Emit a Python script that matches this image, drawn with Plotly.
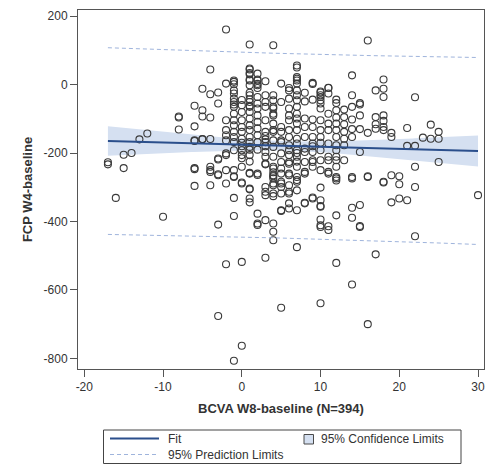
import numpy as np
import plotly.graph_objects as go

# BCVA change at week 8 (letters) -> FCP change at week 4, grouped by BCVA value
fcp_by_bcva = {
    -17: [-227, -233],
    -16: [-331],
    -15: [-205, -244],
    -14: [-200],
    -13: [-160],
    -12: [-143],
    -10: [-386],
    -8: [-93, -96, -131],
    -6: [-62, -122, -163, -165, -244, -247, -296],
    -5: [-12, -75, -93, -159, -160],
    -4: [44, -28, -96, -159, -240, -250, -255, -294],
    -3: [-23, -55, -216, -219, -262, -265, -409, -676],
    -2: [161, 3, -104, -133, -148, -163, -201, -206, -250, -289, -525],
    -1: [12, 8, 1, -17, -26, -41, -51, -58, -65, -85, -104, -119, -138, -153,
         -168, -192, -250, -268, -270, -331, -384, -807],
    0: [-45, -60, -80, -104, -124, -138, -158, -170, -180, -192, -206, -215,
        -240, -286, -289, -518, -763],
    1: [117, 47, 44, 34, 30, 15, 12, -2, -24, -31, -43, -51, -62, -65, -80, -99,
        -119, -133, -153, -168, -182, -190, -206, -225, -258, -260, -304, -306,
        -333, -344],
    2: [32, 15, 12, 2, -2, -10, -36, -55, -70, -90, -109, -128, -148, -168,
        -190, -260, -264, -377, -406, -410],
    3: [10, -31, -51, -65, -104, -138, -150, -160, -168, -180, -197, -211, -231,
        -233, -299, -313, -323, -396, -506],
    4: [115, -31, -46, -65, -70, -85, -90, -114, -133, -138, -163, -182, -211,
        -240, -245, -256, -265, -268, -274, -289, -294, -318, -326, -406, -430,
        -455],
    5: [3, -51, -124, -138, -163, -168, -201, -226, -245, -260, -284, -289, -299,
        -318, -367, -369, -652],
    6: [-10, -17, -41, -70, -90, -104, -133, -153, -177, -192, -206, -226, -231,
        -260, -265, -294, -313, -318, -347, -362],
    7: [56, 50, 22, 17, 12, 3, -17, -31, -46, -65, -85, -99, -114, -133, -158,
        -172, -192, -200, -211, -225, -240, -270, -279, -284, -309, -367, -475],
    8: [-24, -49, -99, -124, -153, -187, -197, -226, -255, -260, -345, -347],
    9: [5, 2, -44, -102, -124, -153, -172, -180, -197, -221, -226, -240, -330,
        -333],
    10: [-20, -23, -31, -36, -46, -55, -70, -104, -133, -153, -170, -192, -221,
         -250, -301, -338, -355, -357, -394, -411, -416, -639],
    11: [-9, -10, -26, -85, -114, -133, -172, -211, -221, -255, -260, -414, -425],
    12: [-44, -54, -75, -96, -114, -133, -153, -177, -192, -211, -221, -240,
         -270, -274, -280, -382, -521],
    13: [-73, -95, -116, -138, -158, -177, -221],
    14: [27, -31, -65, -102, -130, -153, -270, -274, -360, -389, -584],
    15: [-54, -58, -90, -130, -197, -352, -413, -416],
    16: [129, -141, -268, -270, -700],
    17: [-17, -95, -116, -129, -496],
    18: [15, -12, -36, -90, -106, -124, -133, -284, -286],
    19: [-141, -153, -265, -344],
    20: [-268, -291, -333],
    21: [-127, -179, -338],
    22: [-37, -179, -240, -299, -443],
    23: [-155],
    24: [-117, -158],
    25: [-138, -158, -226],
    30: [-323],
}

bcva = np.array([k for k, v in fcp_by_bcva.items() for _ in v], dtype=float)
fcp = np.array([y for v in fcp_by_bcva.values() for y in v], dtype=float)

x_ticks = [-20, -10, 0, 10, 20, 30]
x_tick_text = ["-20", "-10", "0", "10", "20", "30"]
y_ticks = [-800, -600, -400, -200, 0, 200]
y_tick_text = ["-800", "-600", "-400", "-200", "0", "200"]

# Regression summary: fitted values at the ends of the BCVA range and
# the residual standard deviation of the model
fit_x_ends = [-17, 30]
fit_y_ends = [-165, -194]
resid_sd = 137.0
T_CRIT = 1.966

slope = (fit_y_ends[1] - fit_y_ends[0]) / (fit_x_ends[1] - fit_x_ends[0])
intercept = fit_y_ends[0] - slope * fit_x_ends[0]
n = len(bcva)
xbar = bcva.mean()
sxx = np.sum((bcva - xbar) ** 2)

xg = np.linspace(fit_x_ends[0], fit_x_ends[1], 200)
yg = intercept + slope * xg
se_mean = resid_sd * np.sqrt(1.0 / n + (xg - xbar) ** 2 / sxx)
se_pred = resid_sd * np.sqrt(1.0 + 1.0 / n + (xg - xbar) ** 2 / sxx)
clm_lo, clm_hi = yg - T_CRIT * se_mean, yg + T_CRIT * se_mean
pl_lo, pl_hi = yg - T_CRIT * se_pred, yg + T_CRIT * se_pred

FIT_COLOR = "#2b4f8c"
BAND_COLOR = "#d5e0f1"
PRED_COLOR = "#9fb4dc"
AXIS_COLOR = "#555555"
TEXT_COLOR = "#333333"
FONT = "Liberation Sans, Arial, sans-serif"
PRED_DASH = "4px,3px"

W, H = 486, 466
M_L, M_R, M_T, M_B = 78, 2, 10, 97
PW, PH = W - M_L - M_R, H - M_T - M_B


def px_x(p):
    return (p - M_L) / PW


def px_y(p):
    return (H - M_B - p) / PH


fig = go.Figure()

# confidence band (filled polygon)
fig.add_trace(go.Scatter(
    x=np.concatenate([xg, xg[::-1]]),
    y=np.concatenate([clm_hi, clm_lo[::-1]]),
    fill="toself", fillcolor=BAND_COLOR, line=dict(width=0),
    mode="lines", hoverinfo="skip", name="95% Confidence Limits",
))

# observations
fig.add_trace(go.Scatter(
    x=bcva, y=fcp, mode="markers", name="Observed",
    marker=dict(symbol="circle-open", size=7, color="#3a3a3a",
                line=dict(width=1.1, color="#3a3a3a")),
))

# fit line
fig.add_trace(go.Scatter(
    x=xg, y=yg, mode="lines", name="Fit",
    line=dict(color=FIT_COLOR, width=2),
))

# prediction limits
for band in (pl_hi, pl_lo):
    fig.add_trace(go.Scatter(
        x=xg, y=band, mode="lines", name="95% Prediction Limits",
        line=dict(color=PRED_COLOR, width=1, dash=PRED_DASH),
    ))

axis_common = dict(
    showgrid=False, zeroline=False, showline=True, mirror=True,
    linecolor=AXIS_COLOR, linewidth=1, ticks="outside", ticklen=7,
    tickcolor=AXIS_COLOR, tickfont=dict(size=12, color=TEXT_COLOR, family=FONT),
)

# legend panel below the plot
shapes = [
    dict(type="rect", xref="paper", yref="paper",
         x0=px_x(103.5), x1=px_x(461), y0=px_y(463.5), y1=px_y(430),
         line=dict(color="#444444", width=1), fillcolor="white"),
    dict(type="line", xref="paper", yref="paper",
         x0=px_x(110), x1=px_x(159), y0=px_y(438.5), y1=px_y(438.5),
         line=dict(color=FIT_COLOR, width=2)),
    dict(type="line", xref="paper", yref="paper",
         x0=px_x(110), x1=px_x(159), y0=px_y(454.5), y1=px_y(454.5),
         line=dict(color=PRED_COLOR, width=1, dash=PRED_DASH)),
    dict(type="rect", xref="paper", yref="paper",
         x0=px_x(304), x1=px_x(313.5), y0=px_y(444), y1=px_y(434.5),
         line=dict(color="#4a4a4a", width=1), fillcolor=BAND_COLOR),
]
legend_labels = [
    ("Fit", 165.5, 438.5),
    ("95% Confidence Limits", 319, 439),
    ("95% Prediction Limits", 165.5, 454.5),
]
annotations = [
    dict(text=t, xref="paper", yref="paper", x=px_x(xp), y=px_y(yp),
         xanchor="left", yanchor="middle", showarrow=False,
         font=dict(size=12, color=TEXT_COLOR, family=FONT))
    for t, xp, yp in legend_labels
]

fig.update_layout(
    width=W, height=H,
    margin=dict(l=M_L, r=M_R, t=M_T, b=M_B),
    paper_bgcolor="white", plot_bgcolor="white",
    font=dict(family=FONT, color=TEXT_COLOR, size=12),
    showlegend=False,
    xaxis=dict(
        range=[-20.8, 30.76], tickvals=x_ticks, ticktext=x_tick_text,
        title=dict(text="<b>BCVA W8-baseline (N=394)</b>",
                   font=dict(size=13, color=TEXT_COLOR), standoff=10),
        **axis_common,
    ),
    yaxis=dict(
        range=[-831, 218], tickvals=y_ticks, ticktext=y_tick_text,
        title=dict(text="<b>FCP W4-baseline</b>",
                   font=dict(size=13, color=TEXT_COLOR), standoff=8),
        **axis_common,
    ),
    shapes=shapes,
    annotations=annotations,
)

fig.write_html("out.html")
